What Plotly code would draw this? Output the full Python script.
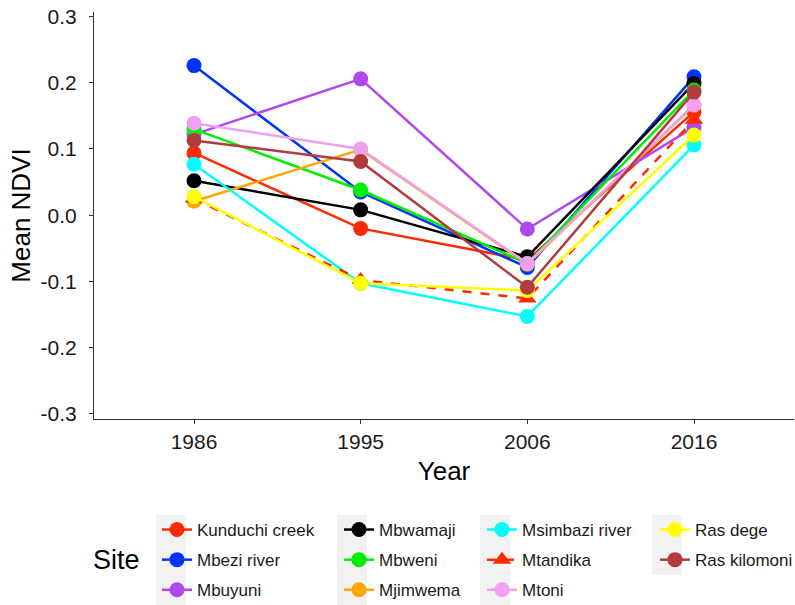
import plotly.graph_objects as go

years = ["1986", "1995", "2006", "2016"]

sites = ["Kunduchi creek", "Mbezi river", "Mbuyuni", "Mbwamaji", "Mbweni",
         "Mjimwema", "Msimbazi river", "Mtandika", "Mtoni", "Ras dege", "Ras kilomoni"]

kunduchi_creek = [0.094, -0.020, -0.068, 0.156]
mbezi_river = [0.226, 0.035, -0.079, 0.209]
mbuyuni = [0.122, 0.206, -0.021, 0.133]
mbwamaji = [0.052, 0.008, -0.063, 0.199]
mbweni = [0.130, 0.038, -0.073, 0.189]
mjimwema = [0.021, 0.099, -0.074, 0.166]
msimbazi_river = [0.077, -0.103, -0.153, 0.106]
mtandika = [0.025, -0.098, -0.126, 0.144]
mtoni = [0.139, 0.100, -0.073, 0.167]
ras_dege = [0.028, -0.103, -0.114, 0.121]
ras_kilomoni = [0.113, 0.081, -0.109, 0.186]

values = [kunduchi_creek, mbezi_river, mbuyuni, mbwamaji, mbweni, mjimwema,
          msimbazi_river, mtandika, mtoni, ras_dege, ras_kilomoni]

colors = ["#FF2A00", "#0033FF", "#B048F0", "#000000", "#00EE00", "#FFA500",
          "#00FFFF", "#FF2A00", "#F0A0F0", "#FFFF00", "#B03C3C"]
symbols = ["circle"] * 7 + ["triangle-up"] + ["circle"] * 3
dashes = ["solid"] * 7 + ["dash"] + ["solid"] * 3
legend_ids = ["legend", "legend", "legend", "legend2", "legend2", "legend2",
              "legend3", "legend3", "legend3", "legend4", "legend4"]

fig = go.Figure()
for i, name in enumerate(sites):
    fig.add_trace(go.Scatter(
        x=years, y=values[i], name=name, mode="lines+markers",
        line=dict(color=colors[i], width=2.5, dash=dashes[i]),
        marker=dict(color=colors[i], size=15 if symbols[i] == "circle" else 16,
                    symbol=symbols[i]),
        legend=legend_ids[i], legendgroup=name,
    ))

font_family = "Liberation Sans, Arial, sans-serif"
W = 700.0   # plot area width (px)
H = 407.0   # plot area height (px)
L = 94.0
B = 419.0


def px_x(px):
    return (px - L) / W


def px_y(py):
    return (B - py) / H


leg_common = dict(orientation="v", yanchor="top", xanchor="left",
                  bgcolor="rgba(0,0,0,0)", tracegroupgap=5,
                  font=dict(family=font_family, size=17, color="#1a1a1a"))
ly = px_y(512)
fig.update_layout(
    legend=dict(x=px_x(157), y=ly, **leg_common),
    legend2=dict(x=px_x(339), y=ly, **leg_common),
    legend3=dict(x=px_x(482), y=ly, **leg_common),
    legend4=dict(x=px_x(655), y=ly, **leg_common),
)

# legend key backgrounds
key_cols = [(156, 3), (337, 3), (480, 3), (652, 2)]
shapes = []
for xl, n in key_cols:
    shapes.append(dict(type="rect", xref="paper", yref="paper",
                       x0=px_x(xl), x1=px_x(xl + 30), y0=px_y(515 + n * 30), y1=px_y(515),
                       fillcolor="#F2F2F2", line=dict(width=0), layer="below"))

fig.update_layout(
    width=795, height=605,
    margin=dict(l=94, r=1, t=12, b=186, autoexpand=False),
    paper_bgcolor="white", plot_bgcolor="white",
    font=dict(family=font_family, color="#000000"),
    shapes=shapes,
    showlegend=True,
    annotations=[dict(text="Site", xref="paper", yref="paper",
                      x=px_x(116), y=px_y(560),
                      xanchor="center", yanchor="middle", showarrow=False,
                      font=dict(family=font_family, size=27, color="#000000"))],
)
fig.update_xaxes(
    type="category", range=[-0.6, 3.6],
    showline=True, linecolor="#333333", linewidth=1.2,
    ticks="outside", ticklen=4, tickcolor="#333333", tickwidth=1.1,
    showgrid=False, zeroline=False, ticklabelstandoff=0,
    tickfont=dict(size=21, color="#1a1a1a"),
    title=dict(text="Year", font=dict(size=26, color="#000000"), standoff=9),
)
fig.update_yaxes(
    range=[-0.308, 0.307],
    tickvals=[-0.3, -0.2, -0.1, 0.0, 0.1, 0.2, 0.3],
    ticktext=["-0.3", "-0.2", "-0.1", "0.0", "0.1", "0.2", "0.3"],
    showline=True, linecolor="#333333", linewidth=1.2,
    ticks="outside", ticklen=4, tickcolor="#333333", tickwidth=1.1,
    showgrid=False, zeroline=False, ticklabelstandoff=8,
    tickfont=dict(size=21, color="#1a1a1a"),
    title=dict(text="Mean NDVI", font=dict(size=26, color="#000000"), standoff=2),
)

fig.write_html("out.html", config={"displayModeBar": False},
               post_script="document.body.style.margin='0';document.body.style.overflow='hidden';")
